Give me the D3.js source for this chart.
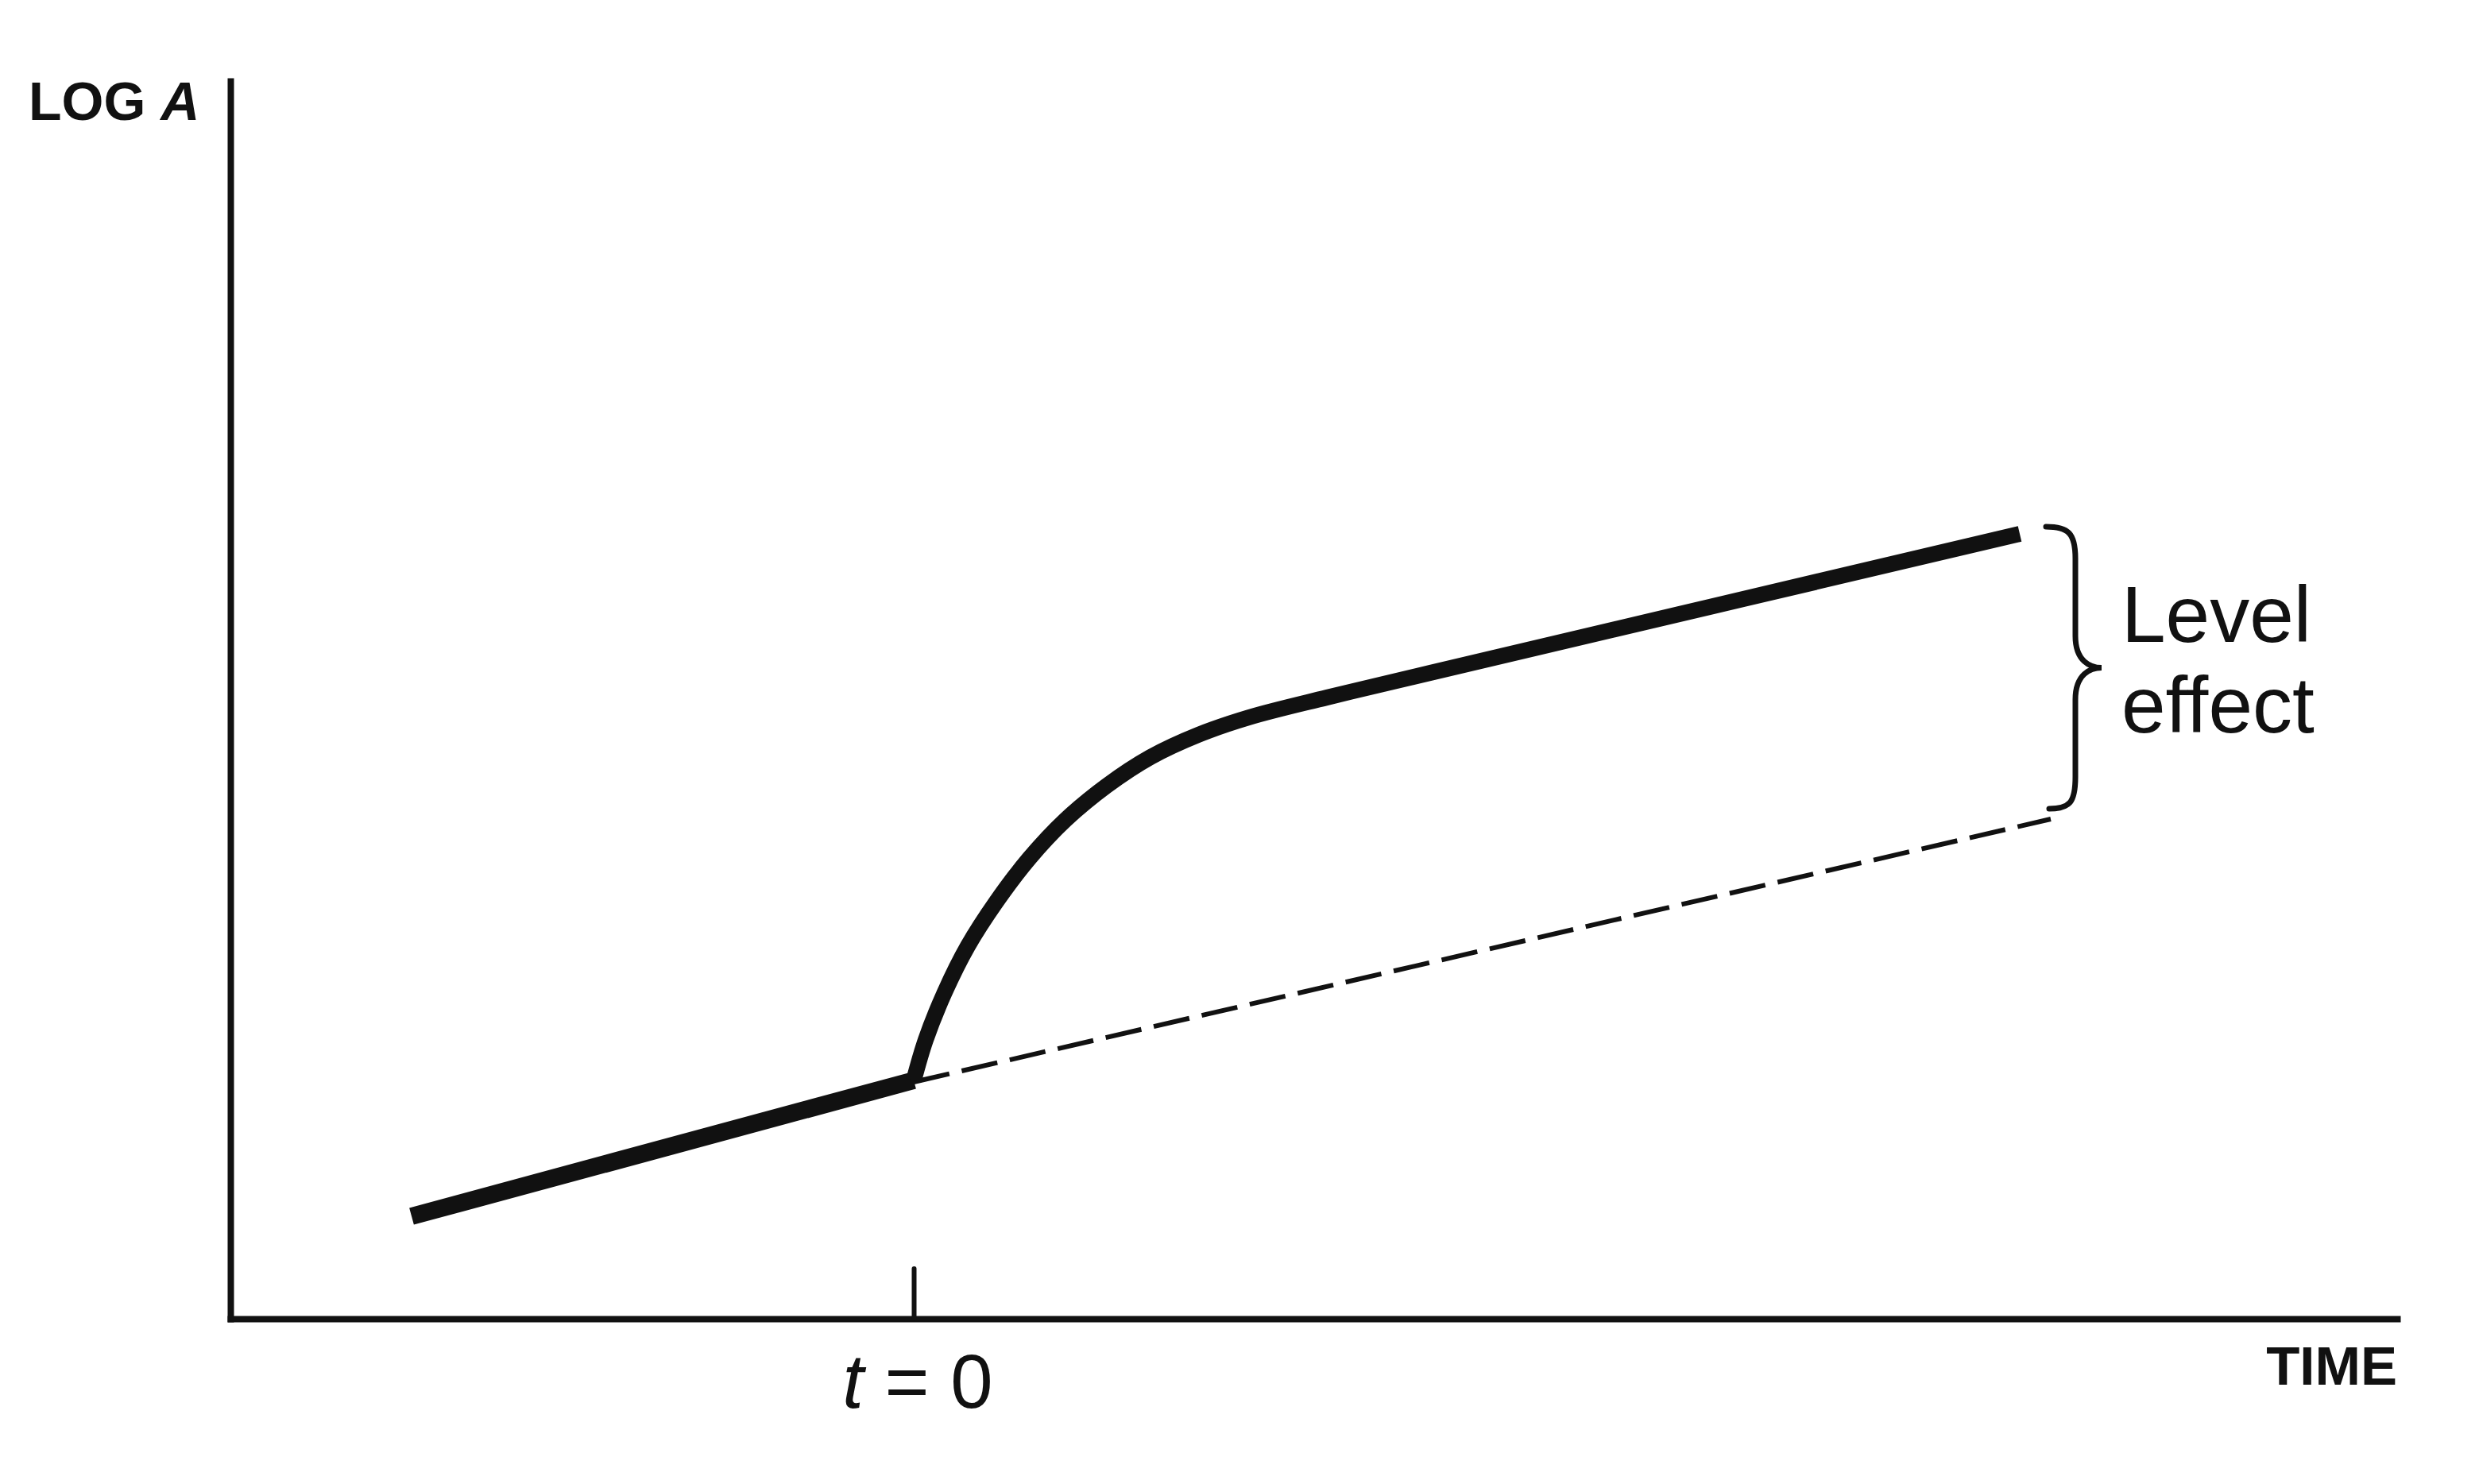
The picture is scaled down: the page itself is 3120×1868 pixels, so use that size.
<!DOCTYPE html>
<html>
<head>
<meta charset="utf-8">
<script src="https://cdn.jsdelivr.net/npm/d3@7"></script>
<style>
  html, body { margin: 0; padding: 0; background: #ffffff; }
  svg { display: block; }
  text { font-family: "Liberation Sans", Arial, Helvetica, sans-serif; fill: #111; }
</style>
</head>
<body>
<script>
// ---- data (time relative to shock t = 0, value = log A in arbitrary units) ----
const timeDomain = [-8.6, 18.67];
const logADomain = [0, 15.58];
const shockTicks = [0];

// solid path before the shock
const preShock = [
  [-6.32, 1.29],
  [0.00, 3.00]
];
// solid path after the shock: adjustment curve, then new parallel growth path
const postShock = [
  [0.00, 3.00],
  [0.15, 3.51],
  [0.39, 4.11],
  [0.68, 4.69],
  [1.04, 5.25],
  [1.45, 5.79],
  [1.91, 6.28],
  [2.43, 6.71],
  [2.98, 7.07],
  [3.58, 7.35],
  [4.22, 7.57],
  [5.20, 7.82],
  [6.50, 8.13],
  [13.92, 9.88]
];
// counterfactual (no shock) path
const counterfactual = [
  [0.00, 2.98],
  [14.31, 6.29]
];
// brace marking the level effect
const braceSpan = { t: 14.25, top: 9.97, bottom: 6.42 };

const yLabel = "LOG ";
const yLabelItalic = "A";
const xLabel = "TIME";
const tickLabelItalic = "t";
const tickLabelRest = " = 0";
const braceLabel = ["Level", "effect"];

// ---- layout ----
const W = 3120, H = 1868;
const svg = d3.select("body").append("svg").attr("width", W).attr("height", H);
svg.append("rect").attr("width", W).attr("height", H).attr("fill", "#ffffff");

const x = d3.scaleLinear().domain(timeDomain).range([290, 3017]);
const y = d3.scaleLinear().domain(logADomain).range([1660, 102]);

const ink = "#111";

// axes
const yAxis = d3.axisLeft(y).tickValues([]).tickSizeOuter(0);
const gy = svg.append("g").attr("transform", `translate(${x(timeDomain[0])},0)`).call(yAxis);
gy.select(".domain").attr("stroke", ink).attr("stroke-width", 8).attr("stroke-linecap", "square");

const xAxis = d3.axisBottom(x).tickValues(shockTicks).tickSize(-63).tickSizeOuter(0).tickFormat("");
const gx = svg.append("g").attr("transform", `translate(0,${y(logADomain[0])})`).call(xAxis);
gx.select(".domain").attr("stroke", ink).attr("stroke-width", 8).attr("stroke-linecap", "square");
gx.selectAll(".tick line").attr("stroke", ink).attr("stroke-width", 6).attr("stroke-linecap", "round");

// lines
const line = d3.line().x(d => x(d[0])).y(d => y(d[1]));
const curveLine = d3.line().x(d => x(d[0])).y(d => y(d[1])).curve(d3.curveCatmullRom.alpha(0.5));

svg.append("path").datum(counterfactual).attr("d", line)
  .attr("fill", "none").attr("stroke", ink).attr("stroke-width", 6)
  .attr("stroke-dasharray", "46,16");

svg.append("path").datum(preShock).attr("d", line)
  .attr("fill", "none").attr("stroke", ink).attr("stroke-width", 22)
  .attr("stroke-linecap", "butt");

svg.append("path").datum(postShock).attr("d", curveLine)
  .attr("fill", "none").attr("stroke", ink).attr("stroke-width", 20)
  .attr("stroke-linecap", "butt").attr("stroke-linejoin", "round");

// brace
const bx0 = x(braceSpan.t), bs = bx0 + 37, bm = bx0 + 70;
const byT = y(braceSpan.top), byB = y(braceSpan.bottom), byM = (byT + byB) / 2;
const braceD = `M${bx0},${byT} C${bx0 + 28},${byT} ${bs},${byT + 8} ${bs},${byT + 40}
  L${bs},${byM - 40} C${bs},${byM - 8} ${bm - 14},${byM} ${bm},${byM}
  C${bm - 14},${byM} ${bs},${byM + 8} ${bs},${byM + 40}
  L${bs},${byB - 40} C${bs},${byB - 8} ${bx0 + 30},${byB} ${bx0 + 4},${byB}`;
svg.append("path").attr("d", braceD).attr("fill", "none").attr("stroke", ink)
  .attr("stroke-width", 7).attr("stroke-linecap", "round");

// texts
const ty = svg.append("text").attr("x", 36).attr("y", 151)
  .attr("font-size", 68).attr("font-weight", "bold");
ty.append("tspan").text(yLabel);
ty.append("tspan").attr("font-style", "italic").text(yLabelItalic);

svg.append("text").attr("x", 3017).attr("y", 1743).attr("text-anchor", "end")
  .attr("font-size", 69).attr("font-weight", "bold").text(xLabel);

const tl = svg.append("text").attr("x", x(shockTicks[0]) + 5).attr("y", 1772)
  .attr("text-anchor", "middle").attr("font-size", 96);
tl.append("tspan").attr("font-style", "italic").text(tickLabelItalic);
tl.append("tspan").text(tickLabelRest);

svg.append("text").attr("x", 2670).attr("y", 808).attr("font-size", 100).text(braceLabel[0]);
svg.append("text").attr("x", 2670).attr("y", 922).attr("font-size", 100).text(braceLabel[1]);
</script>
</body>
</html>
